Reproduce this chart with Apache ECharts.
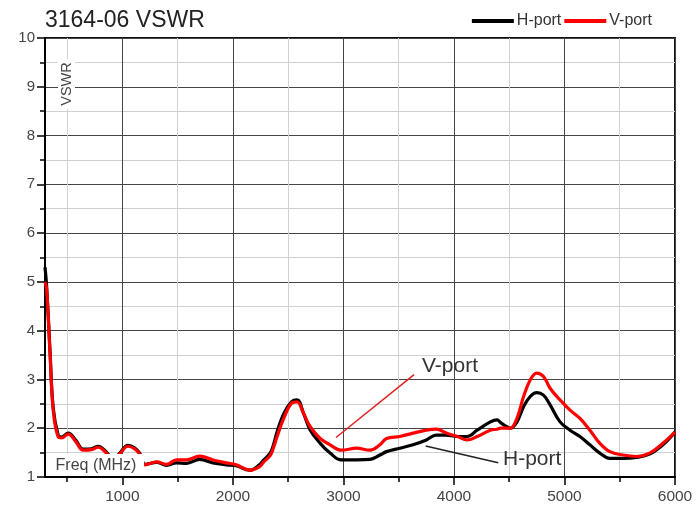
<!DOCTYPE html>
<html><head><meta charset="utf-8">
<script src="https://cdn.jsdelivr.net/npm/echarts@6/dist/echarts.min.js"></script>
<style>html,body{margin:0;padding:0;background:#fff}#c{width:696px;height:510px}</style>
</head><body><div id="c"></div>
<script>
const freq = [300,315,345,375,420,450,510,580,645,720,780,860,920,980,1050,1110,1160,1205,1310,1400,1490,1580,1700,1820,1940,2030,2150,2240,2280,2340,2370,2400,2460,2530,2580,2640,2700,2790,2880,2980,3120,3240,3330,3390,3510,3630,3750,3840,3930,4030,4120,4210,4330,4390,4420,4450,4480,4510,4570,4630,4690,4750,4810,4870,4960,5050,5140,5230,5320,5410,5530,5650,5770,5890,6000];
const hPort = [5.3,4.9,3.6,2.4,1.85,1.82,1.9,1.75,1.57,1.58,1.63,1.5,1.35,1.5,1.65,1.6,1.48,1.26,1.3,1.24,1.29,1.28,1.36,1.29,1.25,1.23,1.14,1.25,1.35,1.5,1.68,1.93,2.3,2.54,2.58,2.3,1.96,1.69,1.49,1.35,1.35,1.36,1.45,1.52,1.59,1.66,1.76,1.86,1.86,1.83,1.83,1.96,2.13,2.17,2.12,2.07,2.03,2.0,2.13,2.44,2.65,2.73,2.68,2.48,2.13,1.96,1.83,1.66,1.49,1.38,1.38,1.4,1.47,1.66,1.92];
const vPort = [5.0,4.85,3.55,2.35,1.82,1.8,1.88,1.72,1.55,1.56,1.61,1.48,1.33,1.48,1.63,1.58,1.46,1.25,1.31,1.26,1.35,1.35,1.43,1.35,1.29,1.25,1.14,1.21,1.31,1.45,1.62,1.83,2.2,2.51,2.54,2.3,2.03,1.79,1.66,1.55,1.59,1.55,1.66,1.79,1.83,1.9,1.96,1.98,1.9,1.83,1.76,1.83,1.96,1.98,2.0,2.0,2.0,2.0,2.2,2.65,2.99,3.13,3.06,2.82,2.58,2.37,2.2,1.96,1.69,1.52,1.45,1.42,1.49,1.69,1.92];
const xMajorTicks = [1000,2000,3000,4000,5000,6000];
const xMinorTicks = [500,1500,2500,3500,4500,5500];
const seriesNames = ['H-port','V-port'];
// annotation leader lines: [x1,y1,x2,y2] in data units, label anchor [x,y]
const vNote = {text:'V-port', line:[2933,1.81,3639,3.1], at:[3711,3.27]};
const hNote = {text:'H-port', line:[3744,1.635,4401,1.29], at:[4444,1.37]};

const FONT = "'Liberation Sans', Arial, sans-serif";
const chart = echarts.init(document.getElementById('c'), null, {renderer:'canvas'});
const toPairs = (xs, ys) => xs.map((x,i)=>[x, ys[i]]);
const option = {
  backgroundColor:'#fff',
  animation:false,
  title:{text:'3164-06 VSWR', left:40, top:4, textStyle:{fontFamily:FONT, fontSize:23, fontWeight:'normal', color:'#222'}},
  legend:{data:seriesNames, right:44, top:13, padding:0, icon:'rect', itemWidth:42, itemHeight:4, itemGap:3,
    textStyle:{fontFamily:FONT, fontSize:16, color:'#333', padding:[0,0,0,-2]}},
  grid:{left:45, right:21, top:38, bottom:33, show:true, borderColor:'#111', borderWidth:2, backgroundColor:'transparent'},
  xAxis:[{
    type:'value', min:300, max:6000,
    axisLine:{show:true, onZero:false, lineStyle:{color:'#000', width:2}},
    axisTick:{show:true, customValues:xMajorTicks, length:8, lineStyle:{color:'#000', width:1.5}},
    axisLabel:{customValues:xMajorTicks, formatter:v=>String(v), fontFamily:FONT, fontSize:15.5, color:'#444', margin:12},
    splitLine:{show:true, lineStyle:{color:'#444', width:1}}
  },{
    type:'value', min:300, max:6000, position:'bottom',
    axisLine:{show:false},
    axisTick:{show:true, customValues:xMinorTicks, length:5, lineStyle:{color:'#000', width:1.5}},
    axisLabel:{show:false, customValues:xMinorTicks},
    splitLine:{show:true, lineStyle:{color:'#d0d0d0', width:1}}
  }],
  yAxis:{
    type:'value', min:1, max:10, interval:1,
    axisLine:{show:true, onZero:false, lineStyle:{color:'#000', width:2}},
    axisTick:{show:true, length:8, lineStyle:{color:'#000', width:1.5}},
    minorTick:{show:true, splitNumber:2, length:5, lineStyle:{color:'#000', width:1.5}},
    axisLabel:{fontFamily:FONT, fontSize:15, color:'#444', margin:10},
    splitLine:{show:true, lineStyle:{color:'#444', width:1}},
    minorSplitLine:{show:true, lineStyle:{color:'#d0d0d0', width:1}}
  },
  series:[
    {name:seriesNames[0], type:'line', xAxisIndex:0, data:toPairs(freq,hPort), smooth:0.4, symbol:'none',
      lineStyle:{color:'#000', width:3.2}, itemStyle:{color:'#000'}, z:3},
    {name:seriesNames[1], type:'line', xAxisIndex:0, data:toPairs(freq,vPort), smooth:0.4, symbol:'none',
      lineStyle:{color:'#ff0000', width:3.2}, itemStyle:{color:'#ff0000'}, z:4}
  ]
};
chart.setOption(option);

function px(x,y){ return chart.convertToPixel({xAxisIndex:0, yAxisIndex:0}, [x,y]); }
const gfx = [];
[[vNote,'#e02020'],[hNote,'#222']].forEach(([n,col])=>{
  const a = px(n.line[0], n.line[1]), b = px(n.line[2], n.line[3]), t = px(n.at[0], n.at[1]);
  gfx.push({type:'line', shape:{x1:a[0],y1:a[1],x2:b[0],y2:b[1]}, style:{stroke:col, lineWidth:1.5}, z:20});
  gfx.push({type:'text', x:t[0], y:t[1], style:{text:n.text, font:'21px '+FONT, fill:'#333', verticalAlign:'middle'}, z:20});
});
gfx.push({type:'rect', shape:{x:47, y:454, width:97, height:22}, style:{fill:'#fff'}, z:30});
gfx.push({type:'text', x:96, y:466, style:{text:'Freq (MHz)', font:'16px '+FONT, fill:'#444', align:'center', verticalAlign:'middle'}, z:31});
gfx.push({type:'rect', shape:{x:58, y:59, width:17, height:50}, style:{fill:'#fff'}, z:30});
gfx.push({type:'text', x:67, y:84, rotation:Math.PI/2, style:{text:'VSWR', font:'14.5px '+FONT, fill:'#444', align:'center', verticalAlign:'middle'}, z:31});
chart.setOption({graphic:gfx});
</script></body></html>
